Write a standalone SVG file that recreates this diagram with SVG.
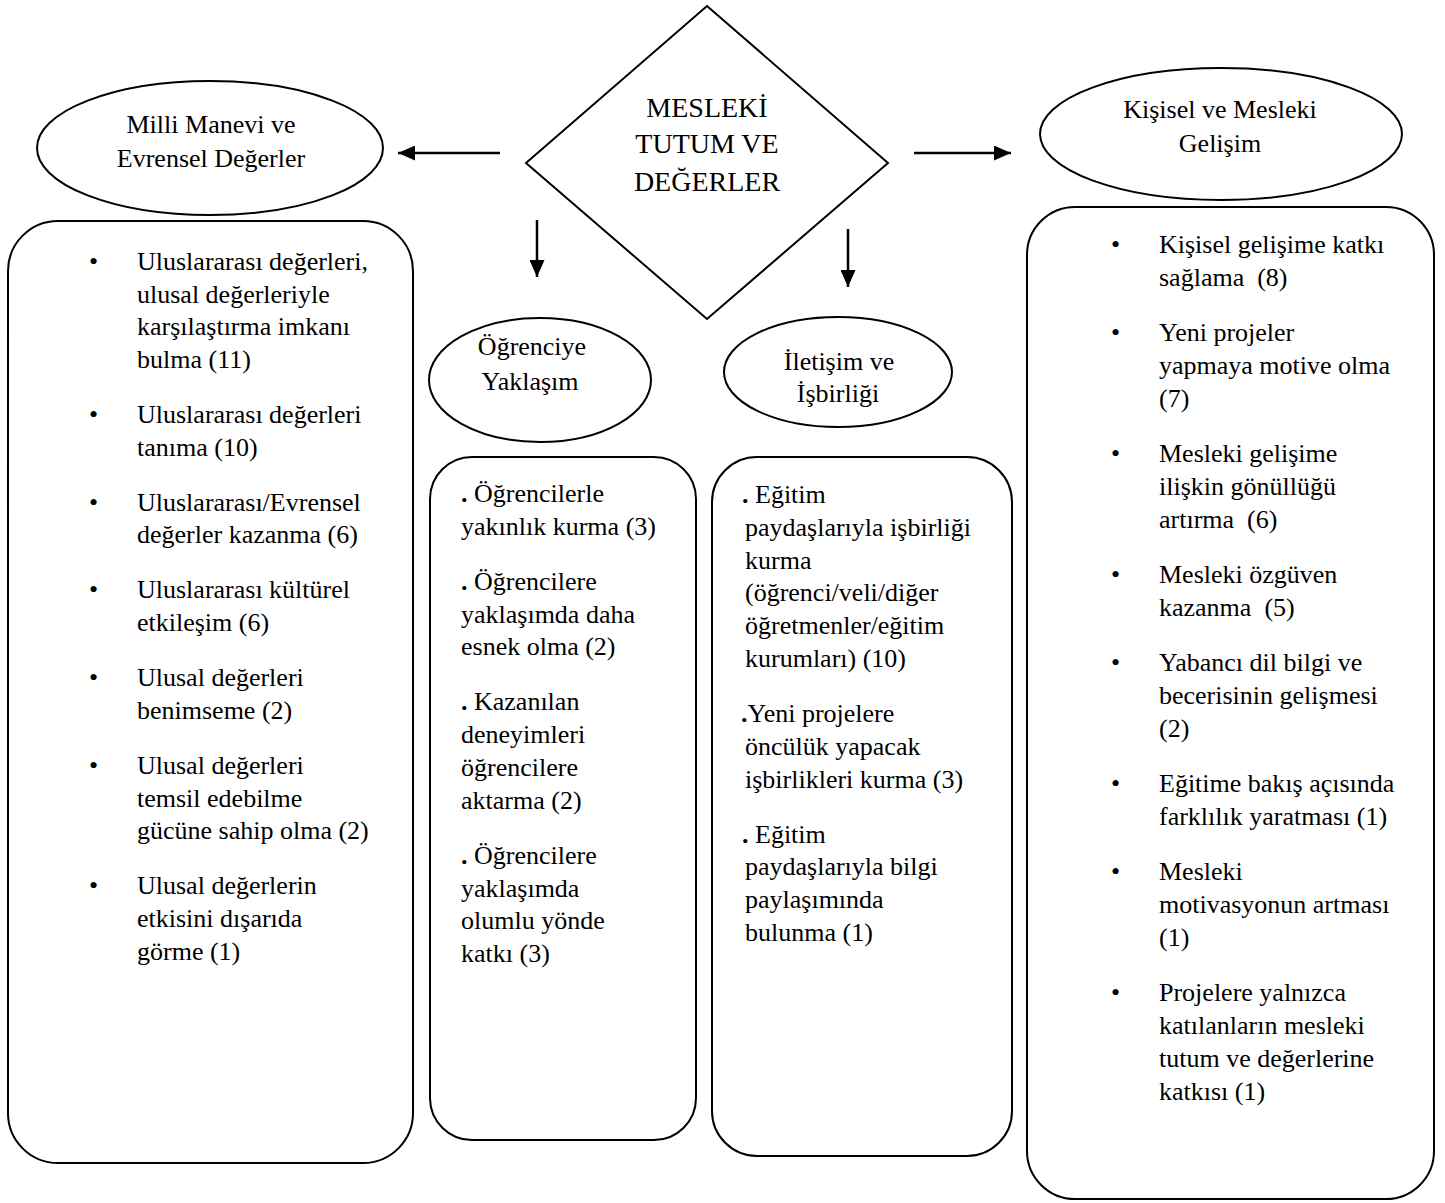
<svg xmlns="http://www.w3.org/2000/svg" width="1445" height="1203" viewBox="0 0 1445 1203">
<style>
  .shape { fill: #ffffff; stroke: #000000; stroke-width: 2; }
  .t { font-family: "Liberation Serif", "Times New Roman", serif; font-size: 26px; fill: #000000; white-space: pre; }
  .c { text-anchor: middle; }
  .big { font-size: 28px; }
  .b { font-weight: bold; }
  .conn { stroke: #000000; stroke-width: 2.5; fill: none; }
</style>
<defs>
  <marker id="ah" markerUnits="userSpaceOnUse" markerWidth="17" markerHeight="15" viewBox="0 0 17 15" refX="17" refY="7.5" orient="auto">
    <path d="M0,0 L17,7.5 L0,15 Z" fill="#000000"/>
  </marker>
</defs>
<rect width="1445" height="1203" fill="#ffffff"/>

<g id="connectors">
  <line class="conn" x1="500" y1="153" x2="398" y2="153" marker-end="url(#ah)"/>
  <line class="conn" x1="914" y1="153" x2="1011" y2="153" marker-end="url(#ah)"/>
  <line class="conn" x1="537" y1="220" x2="537" y2="277" marker-end="url(#ah)"/>
  <line class="conn" x1="848" y1="229" x2="848" y2="287" marker-end="url(#ah)"/>
</g>

<g id="center">
  <polygon class="shape" points="707,6 888,163 707,319 526,163"/>
  <text class="t big c" x="707" y="117">MESLEKİ</text>
  <text class="t big c" x="707" y="153">TUTUM VE</text>
  <text class="t big c" x="707" y="191">DEĞERLER</text>
</g>

<g id="milli-manevi">
  <ellipse class="shape" cx="210" cy="148" rx="173" ry="67"/>
  <text class="t c" x="211" y="133">Milli Manevi ve</text>
  <text class="t c" x="211" y="167">Evrensel Değerler</text>
</g>

<g id="kisisel">
  <ellipse class="shape" cx="1221" cy="134" rx="181" ry="66"/>
  <text class="t c" x="1220" y="118">Kişisel ve Mesleki</text>
  <text class="t c" x="1220" y="152">Gelişim</text>
</g>

<g id="ogrenciye">
  <ellipse class="shape" cx="540" cy="380" rx="111" ry="62"/>
  <text class="t c" x="532" y="355">Öğrenciye</text>
  <text class="t c" x="530" y="390">Yaklaşım</text>
</g>

<g id="iletisim">
  <ellipse class="shape" cx="838" cy="372" rx="114" ry="55"/>
  <text class="t c" x="839" y="370">İletişim ve</text>
  <text class="t c" x="838" y="402">İşbirliği</text>
</g>

<g id="milli-box">
  <rect class="shape" x="8" y="221" width="405" height="942" rx="50" ry="50"/>
  <text class="t" x="89" y="270">•</text>
  <text class="t" x="137" y="270">Uluslararası değerleri,</text>
  <text class="t" x="137" y="302.7">ulusal değerleriyle</text>
  <text class="t" x="137" y="335.4">karşılaştırma imkanı</text>
  <text class="t" x="137" y="368.1">bulma (11)</text>
  <text class="t" x="89" y="423">•</text>
  <text class="t" x="137" y="423">Uluslararası değerleri</text>
  <text class="t" x="137" y="455.7">tanıma (10)</text>
  <text class="t" x="89" y="510.7">•</text>
  <text class="t" x="137" y="510.7">Uluslararası/Evrensel</text>
  <text class="t" x="137" y="543.4">değerler kazanma (6)</text>
  <text class="t" x="89" y="598.4">•</text>
  <text class="t" x="137" y="598.4">Uluslararası kültürel</text>
  <text class="t" x="137" y="631.1">etkileşim (6)</text>
  <text class="t" x="89" y="686.1">•</text>
  <text class="t" x="137" y="686.1">Ulusal değerleri</text>
  <text class="t" x="137" y="718.8">benimseme (2)</text>
  <text class="t" x="89" y="773.8">•</text>
  <text class="t" x="137" y="773.8">Ulusal değerleri</text>
  <text class="t" x="137" y="806.5">temsil edebilme</text>
  <text class="t" x="137" y="839.2">gücüne sahip olma (2)</text>
  <text class="t" x="89" y="894.2">•</text>
  <text class="t" x="137" y="894.2">Ulusal değerlerin</text>
  <text class="t" x="137" y="926.9">etkisini dışarıda</text>
  <text class="t" x="137" y="959.6">görme (1)</text>
</g>

<g id="ogrenciye-box">
  <rect class="shape" x="430" y="457" width="266" height="683" rx="42" ry="42"/>
  <text class="t" x="461" y="502"><tspan class="b">.</tspan> Öğrencilerle</text>
  <text class="t" x="461" y="534.8">yakınlık kurma (3)</text>
  <text class="t" x="461" y="589.8"><tspan class="b">.</tspan> Öğrencilere</text>
  <text class="t" x="461" y="622.6">yaklaşımda daha</text>
  <text class="t" x="461" y="655.4">esnek olma (2)</text>
  <text class="t" x="461" y="710.4"><tspan class="b">.</tspan> Kazanılan</text>
  <text class="t" x="461" y="743.2">deneyimleri</text>
  <text class="t" x="461" y="776">öğrencilere</text>
  <text class="t" x="461" y="808.8">aktarma (2)</text>
  <text class="t" x="461" y="863.8"><tspan class="b">.</tspan> Öğrencilere</text>
  <text class="t" x="461" y="896.6">yaklaşımda</text>
  <text class="t" x="461" y="929.4">olumlu yönde</text>
  <text class="t" x="461" y="962.2">katkı (3)</text>
</g>

<g id="iletisim-box">
  <rect class="shape" x="712" y="457" width="300" height="699" rx="45" ry="45"/>
  <text class="t" x="742" y="503"><tspan class="b">.</tspan> Eğitim</text>
  <text class="t" x="745" y="535.8">paydaşlarıyla işbirliği</text>
  <text class="t" x="745" y="568.6">kurma</text>
  <text class="t" x="745" y="601.4">(öğrenci/veli/diğer</text>
  <text class="t" x="745" y="634.2">öğretmenler/eğitim</text>
  <text class="t" x="745" y="667">kurumları) (10)</text>
  <text class="t" x="741" y="722"><tspan class="b">.</tspan>Yeni projelere</text>
  <text class="t" x="745" y="754.8">öncülük yapacak</text>
  <text class="t" x="745" y="787.6">işbirlikleri kurma (3)</text>
  <text class="t" x="742" y="842.6"><tspan class="b">.</tspan> Eğitim</text>
  <text class="t" x="745" y="875.4">paydaşlarıyla bilgi</text>
  <text class="t" x="745" y="908.2">paylaşımında</text>
  <text class="t" x="745" y="941">bulunma (1)</text>
</g>

<g id="kisisel-box">
  <rect class="shape" x="1027" y="207" width="407" height="992" rx="48" ry="48"/>
  <text class="t" x="1111" y="253">•</text>
  <text class="t" x="1159" y="253">Kişisel gelişime katkı</text>
  <text class="t" x="1159" y="286">sağlama  (8)</text>
  <text class="t" x="1111" y="341">•</text>
  <text class="t" x="1159" y="341">Yeni projeler</text>
  <text class="t" x="1159" y="374">yapmaya motive olma</text>
  <text class="t" x="1159" y="407">(7)</text>
  <text class="t" x="1111" y="462">•</text>
  <text class="t" x="1159" y="462">Mesleki gelişime</text>
  <text class="t" x="1159" y="495">ilişkin gönüllüğü</text>
  <text class="t" x="1159" y="528">artırma  (6)</text>
  <text class="t" x="1111" y="583">•</text>
  <text class="t" x="1159" y="583">Mesleki özgüven</text>
  <text class="t" x="1159" y="616">kazanma  (5)</text>
  <text class="t" x="1111" y="671">•</text>
  <text class="t" x="1159" y="671">Yabancı dil bilgi ve</text>
  <text class="t" x="1159" y="704">becerisinin gelişmesi</text>
  <text class="t" x="1159" y="737">(2)</text>
  <text class="t" x="1111" y="792">•</text>
  <text class="t" x="1159" y="792">Eğitime bakış açısında</text>
  <text class="t" x="1159" y="825">farklılık yaratması (1)</text>
  <text class="t" x="1111" y="880">•</text>
  <text class="t" x="1159" y="880">Mesleki</text>
  <text class="t" x="1159" y="913">motivasyonun artması</text>
  <text class="t" x="1159" y="946">(1)</text>
  <text class="t" x="1111" y="1001">•</text>
  <text class="t" x="1159" y="1001">Projelere yalnızca</text>
  <text class="t" x="1159" y="1034">katılanların mesleki</text>
  <text class="t" x="1159" y="1067">tutum ve değerlerine</text>
  <text class="t" x="1159" y="1100">katkısı (1)</text>
</g>
</svg>
